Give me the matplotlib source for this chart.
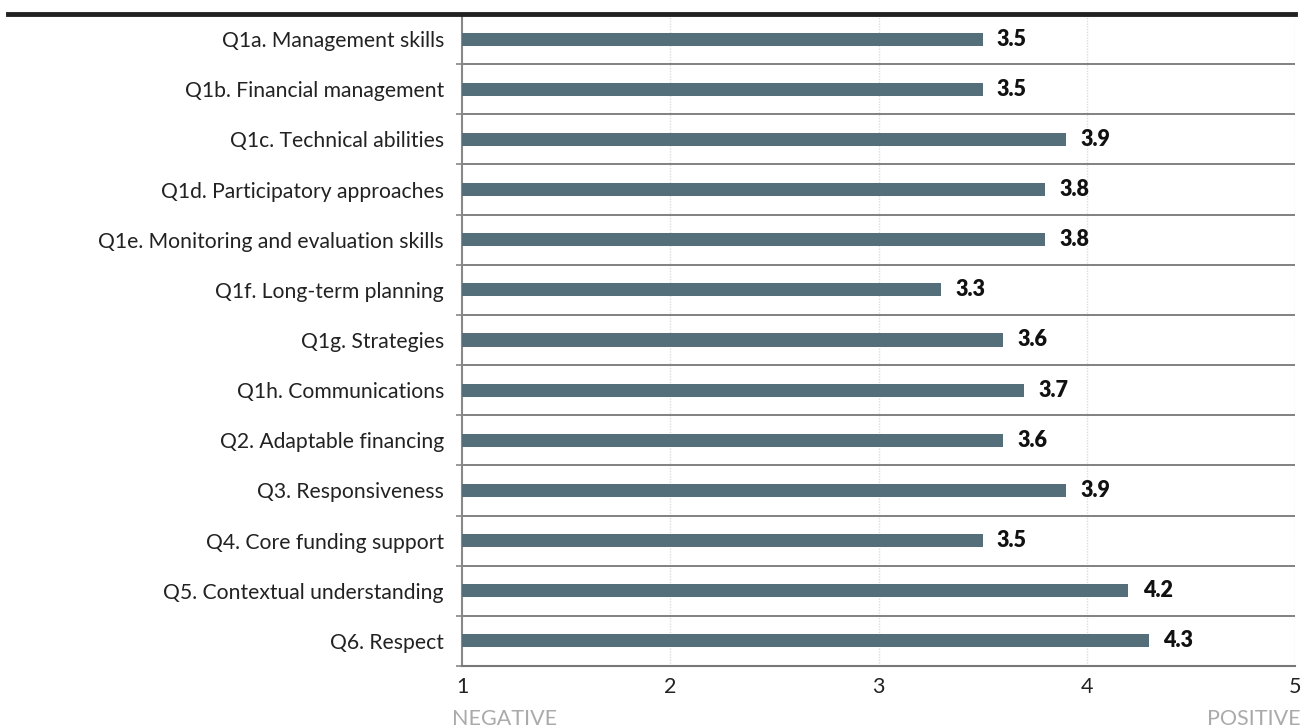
import matplotlib
matplotlib.use("Agg")
import matplotlib.pyplot as plt
from matplotlib.lines import Line2D
import numpy as np

categories = [
    "Q1a. Management skills",
    "Q1b. Financial management",
    "Q1c. Technical abilities",
    "Q1d. Participatory approaches",
    "Q1e. Monitoring and evaluation skills",
    "Q1f. Long-term planning",
    "Q1g. Strategies",
    "Q1h. Communications",
    "Q2. Adaptable financing",
    "Q3. Responsiveness",
    "Q4. Core funding support",
    "Q5. Contextual understanding",
    "Q6. Respect",
]
values = [3.5, 3.5, 3.9, 3.8, 3.8, 3.3, 3.6, 3.7, 3.6, 3.9, 3.5, 4.2, 4.3]
xticks = [1, 2, 3, 4, 5]

plt.rcParams['font.family'] = ['Lato', 'DejaVu Sans']

W, H = 1303, 727
fig = plt.figure(figsize=(W / 100, H / 100), dpi=100)
ax = fig.add_axes([462 / W, 1 - 666 / H, (1295 - 462) / W, (666 - 14) / H])

n = len(categories)
y = np.arange(n)
bar_color = "#546e7a"
ax.barh(y, [v - 1 for v in values], left=1, height=0.26, color=bar_color, zorder=3)

for yi, v in zip(y, values):
    ax.text(v + 0.068, yi, f"{v:.1f}", va="center", ha="left",
            fontsize=15.5, fontweight="heavy", color="#111111", zorder=4)

ax.set_xlim(1, 5)
ax.set_ylim(n - 0.5, -0.5)
ax.set_yticks(y)
ax.set_yticklabels(categories, fontsize=15.2, color="#222222")
ax.set_yticks(np.arange(n + 1) - 0.5, minor=True)
ax.tick_params(axis="y", which="major", length=0, pad=13)
ax.tick_params(axis="y", which="minor", length=4, color="#888888", width=1.2)

ax.set_xticks(xticks)
ax.set_xticklabels([str(t) for t in xticks], fontsize=15.5, color="#222222")
ax.tick_params(axis="x", which="major", length=0, pad=8)

# separators between categories
for b in np.arange(1, n) - 0.5:
    ax.axhline(b, color="#777777", linewidth=1.3, zorder=2)
# vertical dotted grid
for t in xticks[1:]:
    ax.axvline(t, color="#dddddd", linewidth=1, linestyle=(0, (1, 1)), zorder=1)

for s in ["top", "right"]:
    ax.spines[s].set_visible(False)
ax.spines["left"].set_color("#888888")
ax.spines["left"].set_linewidth(1.5)
ax.spines["bottom"].set_color("#777777")
ax.spines["bottom"].set_linewidth(1.5)

# top thick black line spanning width
fig.add_artist(Line2D([8 / W, 1295 / W], [1 - 14 / H, 1 - 14 / H],
                      transform=fig.transFigure, color="#222222", linewidth=3.5))

fig.text(452 / W, 1 - 719 / H, "NEGATIVE", ha="left", va="center",
         fontsize=15.5, color="#aaaaaa", fontweight="normal")
fig.text(1301 / W, 1 - 719 / H, "POSITIVE", ha="right", va="center",
         fontsize=15.5, color="#aaaaaa", fontweight="normal")

fig.savefig("out.png", dpi=100)
